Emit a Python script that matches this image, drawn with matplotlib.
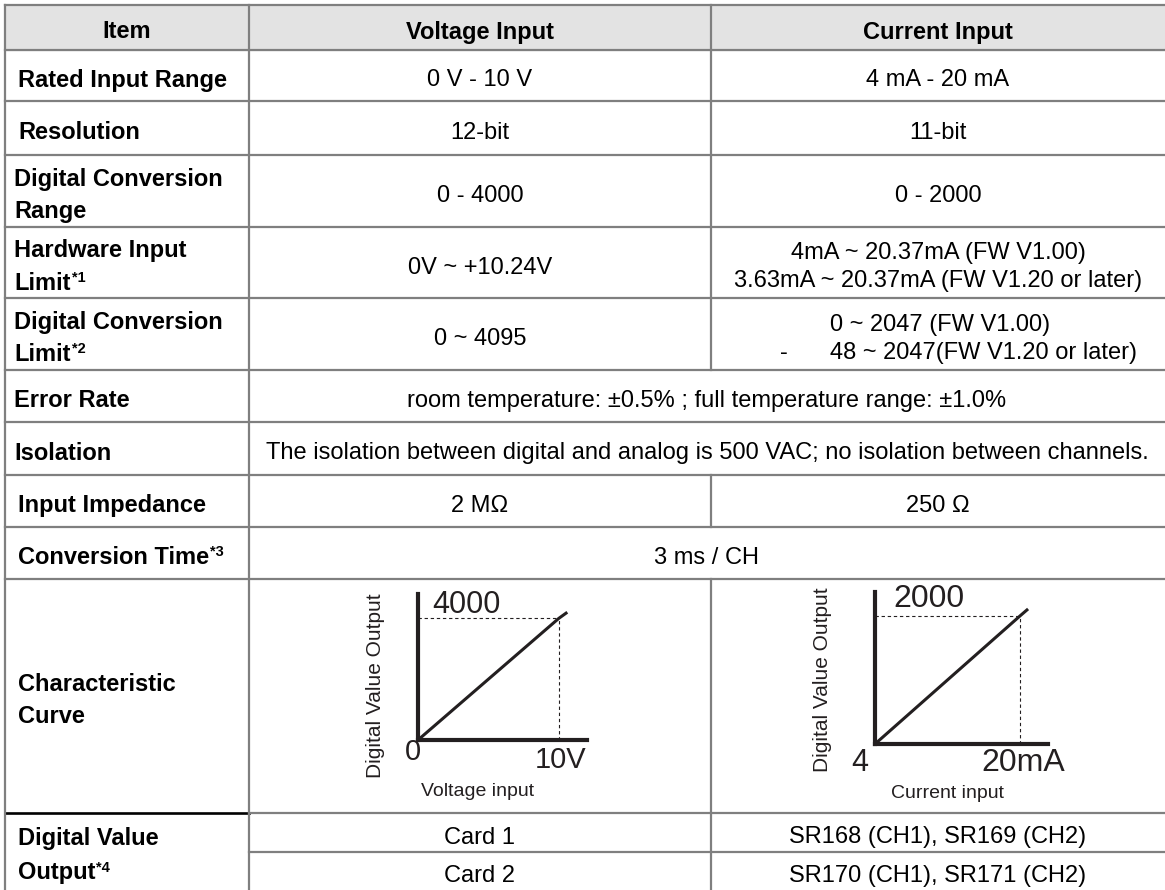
import matplotlib.pyplot as plt

plt.rcParams['font.family'] = ['Liberation Sans', 'DejaVu Sans']

# table content
headers = ["Item", "Voltage Input", "Current Input"]
items = [
    ["Rated Input Range"],
    ["Resolution"],
    ["Digital Conversion", "Range"],
    ["Hardware Input", "Limit"],
    ["Digital Conversion", "Limit"],
    ["Error Rate"],
    ["Isolation"],
    ["Input Impedance"],
    ["Conversion Time"],
    ["Characteristic", "Curve"],
    ["Digital Value", "Output"],
]
item_notes = {3: "*1", 4: "*2", 8: "*3", 10: "*4"}
voltage_vals = ["0 V - 10 V", "12-bit", "0 - 4000", "0V ~ +10.24V", "0 ~ 4095",
                None, None, "2 M\u03a9", None]
current_vals = ["4 mA - 20 mA", "11-bit", "0 - 2000",
                ["4mA ~ 20.37mA (FW V1.00)", "3.63mA ~ 20.37mA (FW V1.20 or later)"],
                None, None, None, "250 \u03a9", None]
limit_lines = ["0 ~ 2047 (FW V1.00)", "48 ~ 2047(FW V1.20 or later)"]
merged_vals = {5: "room temperature: \u00b10.5% ; full temperature range: \u00b11.0%",
               6: "The isolation between digital and analog is 500 VAC; no isolation between channels.",
               8: "3 ms / CH"}
cards = ["Card 1", "Card 2"]
card_regs = ["SR168 (CH1), SR169 (CH2)", "SR170 (CH1), SR171 (CH2)"]

# characteristic curves
volt_in = [0, 10, 10.6]
volt_out = [0, 4000, 4200]
curr_in = [4, 20, 20.9]
curr_out = [0, 2000, 2110]

W, H = 1165, 890
fig = plt.figure(figsize=(W / 100, H / 100), dpi=100)
ax = fig.add_axes([0, 0, 1, 1])
ax.set_xlim(0, W)
ax.set_ylim(H, 0)
ax.axis('off')

rows = [5, 50, 101, 155, 227, 298, 370, 422, 475, 527, 579, 813, 852, 890]
cols = [5, 249, 711, 1165]
grey = '#7f7f7f'
lw = 1.6
fs = 17
cap = 8  # half cap height in px

# header background
ax.fill_between([cols[0], cols[3]], rows[0], rows[1], color='#e3e3e3', zorder=0)

# horizontal rules
for y in rows[:-1]:
    if y == 813:
        ax.plot([cols[0], cols[1]], [y, y], color='black', lw=lw + 0.3)
        ax.plot([cols[1], cols[3]], [y, y], color=grey, lw=lw)
    elif y == 852:
        ax.plot([cols[1], cols[3]], [y, y], color=grey, lw=lw)
    else:
        ax.plot([cols[0], cols[3]], [y, y], color=grey, lw=lw)

# vertical rules
ax.plot([cols[0], cols[0]], [rows[0], H], color=grey, lw=lw)
ax.plot([cols[1], cols[1]], [rows[0], H], color=grey, lw=lw)
for y0, y1 in [(rows[0], rows[6]), (rows[8], rows[9]), (rows[10], H)]:
    ax.plot([cols[2], cols[2]], [y0, y1], color=grey, lw=lw)

fig.canvas.draw()
renderer = fig.canvas.get_renderer()

c1 = (cols[0] + cols[1]) / 2
c2 = (cols[1] + cols[2]) / 2
c3 = (cols[2] + cols[3]) / 2
cm = (cols[1] + cols[3]) / 2

# header text
for x, h in zip([c1, c2, c3], headers):
    ax.text(x, (rows[0] + rows[1]) / 2 + 3 + cap, h, ha='center', va='baseline',
            fontsize=fs, fontweight='bold')

item_left = {2: 14, 3: 14, 4: 14, 5: 14, 6: 14}


def item_text(i, top, bot):
    lines = items[i]
    mid = (top + bot) / 2 + 3
    step = 34 if i == 10 else 32
    n = len(lines)
    x = item_left.get(i, 18)
    for k, line in enumerate(lines):
        yb = mid + (k - (n - 1) / 2) * step + cap
        t = ax.text(x, yb, line, ha='left', va='baseline', fontsize=fs,
                    fontweight='bold')
        if k == n - 1 and i in item_notes:
            bb = t.get_window_extent(renderer)
            xr = ax.transData.inverted().transform((bb.x1, bb.y0))[0]
            ax.text(xr + 1, yb - 8, item_notes[i], ha='left', va='baseline',
                    fontsize=fs * 0.62, fontweight='bold')


def value_text(x, top, bot, val, ha='center'):
    if val is None:
        return
    lines = val if isinstance(val, list) else [val]
    mid = (top + bot) / 2 + 3
    n = len(lines)
    for k, line in enumerate(lines):
        yb = mid + (k - (n - 1) / 2) * 28 + cap
        ax.text(x, yb, line, ha=ha, va='baseline', fontsize=fs)


for i in range(11):
    top, bot = rows[i + 1], rows[i + 2]
    if i == 10:
        bot = H
    item_text(i, top, bot)
    if i < 9:
        if i in merged_vals:
            value_text(cm, top, bot, merged_vals[i])
        else:
            value_text(c2, top, bot, voltage_vals[i])
            value_text(c3, top, bot, current_vals[i])

# digital conversion limit, current column
top, bot = rows[5], rows[6]
mid = (top + bot) / 2 + 3
ax.text(830, mid - 14 + cap, limit_lines[0], ha='left', va='baseline', fontsize=fs)
ax.text(830, mid + 14 + cap, limit_lines[1], ha='left', va='baseline', fontsize=fs)
ax.text(784, mid + 14 + cap, "-", ha='center', va='baseline', fontsize=fs)

# card rows
for k in range(2):
    top, bot = rows[11 + k], rows[12 + k]
    value_text(c2, top, bot, cards[k])
    value_text(c3, top, bot, card_regs[k])


def px_axes(x0, y0, x1, y1):
    return fig.add_axes([x0 / W, (H - y0) / H, (x1 - x0) / W, (y0 - y1) / H])


ink = '#231f20'


def curve(axc, xs, ys, xlim, ylim, x0, xr, yr, labels):
    axc.set_xlim(*xlim)
    axc.set_ylim(*ylim)
    axc.patch.set_alpha(0)
    for s in ['top', 'right']:
        axc.spines[s].set_visible(False)
    for s in ['left', 'bottom']:
        axc.spines[s].set_linewidth(3.0)
        axc.spines[s].set_color(ink)
    axc.set_xticks([])
    axc.set_yticks([])
    axc.plot([x0, xr], [yr, yr], color=ink, lw=0.8, ls=(0, (3, 2.5)), clip_on=False)
    axc.plot([xr, xr], [0, yr], color=ink, lw=0.8, ls=(0, (3, 2.5)), clip_on=False)
    axc.plot(xs, ys, color=ink, lw=2.2, solid_capstyle='butt', clip_on=False)
    for (x, y, s, ha, va, size, rot) in labels:
        axc.text(x, y, s, ha=ha, va=va, fontsize=size, rotation=rot, color=ink,
                 clip_on=False)


# voltage curve
axv = px_axes(418, 740, 587, 594)
curve(axv, volt_in, volt_out, (0, 12), (0, 4800), 0, volt_in[1], volt_out[1], [
    (1.0, 4160, "4000", 'left', 'baseline', 22, 0),
    (-0.35, -390, "0", 'center', 'center', 21, 0),
    (11.95, -650, "10V", 'right', 'center', 21, 0),
    (4.25, -1680, "Voltage input", 'center', 'center', 14, 0),
    (-3.0, 1800, "Digital Value Output", 'center', 'center', 15, 90),
])

# current curve
axi = px_axes(875, 744, 1048, 592)
curve(axi, curr_in, curr_out, (4, 23.1), (0, 2375), 4, curr_in[1], curr_out[1], [
    (6.0, 2140, "2000", 'left', 'baseline', 23, 0),
    (2.35, -300, "4", 'center', 'center', 22, 0),
    (25.0, -300, "20mA", 'right', 'center', 23, 0),
    (12.0, -770, "Current input", 'center', 'center', 14, 0),
    (-1.75, 1000, "Digital Value Output", 'center', 'center', 15, 90),
])

fig.savefig('out.png', dpi=100)
